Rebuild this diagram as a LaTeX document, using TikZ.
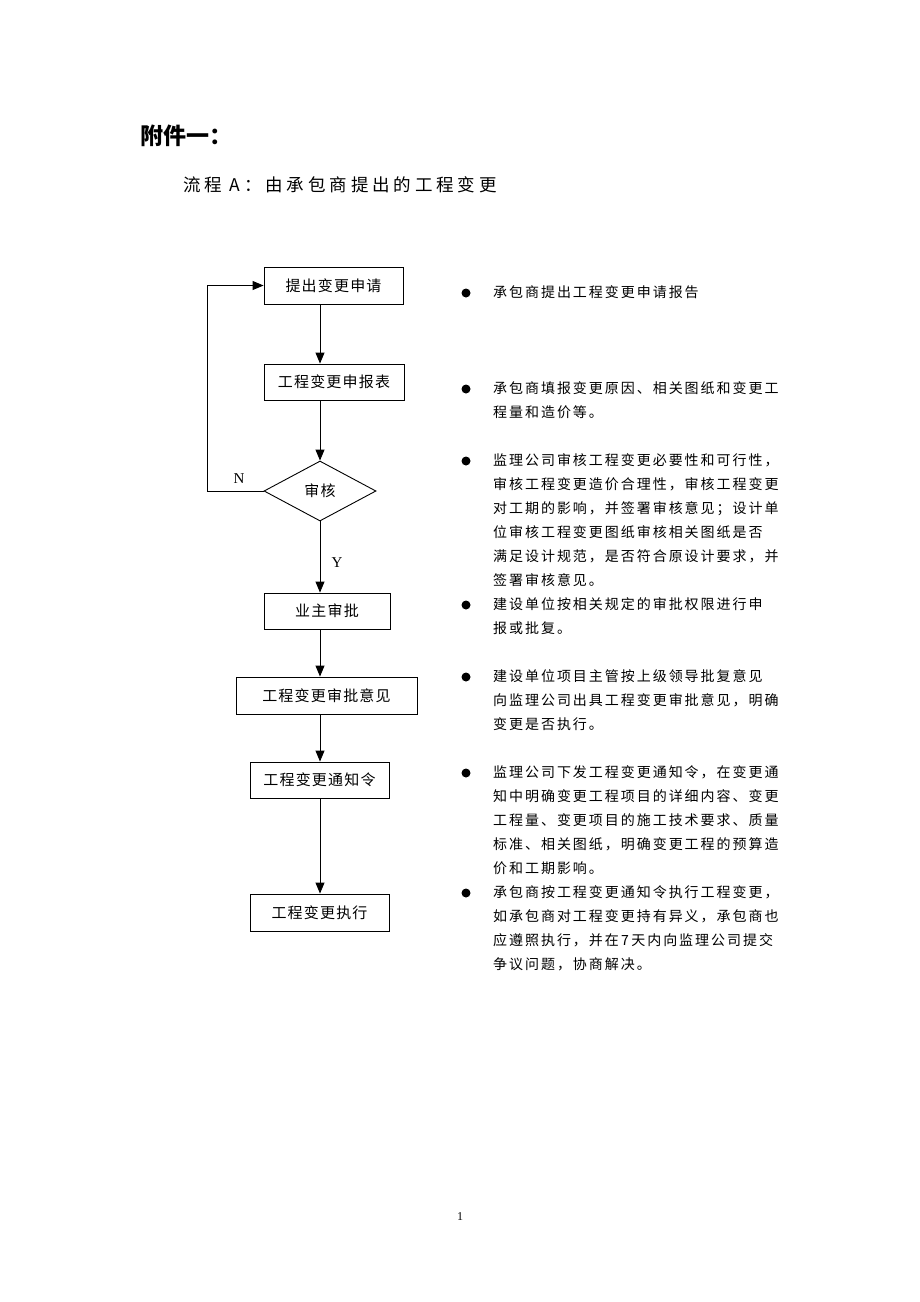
\documentclass[tikz,border=0pt]{standalone}
\usepackage{fontspec}
\setmainfont{Liberation Serif}
\newfontfamily\cjk{Noto Sans CJK SC}
\newfontfamily\cjkbody{Noto Sans CJK SC}[LetterSpace=14]
\newfontfamily\cjkbox{Noto Sans CJK SC}[LetterSpace=8]
\newfontfamily\cjksub{Noto Sans CJK SC}[LetterSpace=22]
\usetikzlibrary{shapes.geometric,arrows.meta}
\begin{document}
\begin{tikzpicture}[x=1pt,y=-1pt,
 box/.style={draw,line width=0.9pt,inner sep=0,font=\cjkbox\fontsize{15}{18}\selectfont},
 arr/.style={line width=0.9pt,-{Triangle[length=11pt,width=9pt]}},
 body/.style={anchor=north west,inner sep=0,align=left,font=\cjkbody\fontsize{14}{24}\selectfont},
 dot/.style={circle,fill,inner sep=0,minimum size=9pt},
 lbl/.style={inner sep=0,font=\fontsize{15}{18}\selectfont}]
\path[use as bounding box,fill=white] (0,0) rectangle (920,1302);

\node[anchor=west,inner sep=0,font=\cjk\bfseries\fontsize{23}{26}\selectfont] (title) at (140,136) {附件一：};
\node[anchor=west,inner sep=0,font=\cjksub\fontsize{17.5}{20}\selectfont] (sub) at (183,185) {流程 A：由承包商提出的工程变更};

\node[box,minimum width=139pt,minimum height=37pt] (a) at (333.5,285.5) {提出变更申请};
\node[box,minimum width=140pt,minimum height=36pt] (b) at (334,382) {工程变更申报表};
\node[box,diamond,minimum width=112pt,minimum height=60pt] (dia) at (320,491) {审核};
\node[box,minimum width=126pt,minimum height=36pt] (c) at (327,611) {业主审批};
\node[box,minimum width=181pt,minimum height=37pt] (d) at (326.5,695.5) {工程变更审批意见};
\node[box,minimum width=139pt,minimum height=36pt] (e) at (319.5,780) {工程变更通知令};
\node[box,minimum width=139pt,minimum height=37pt] (f) at (319.5,912.5) {工程变更执行};

\draw[arr] (a.south -| dia.center) -- (b.north -| dia.center);
\draw[arr] (b.south -| dia.center) -- (dia.north);
\draw[arr] (dia.south) -- (c.north -| dia.center);
\draw[arr] (c.south -| dia.center) -- (d.north -| dia.center);
\draw[arr] (d.south -| dia.center) -- (e.north -| dia.center);
\draw[arr] (e.south -| dia.center) -- (f.north -| dia.center);
\draw[arr] (dia.west) -- ++(-56,0) |- (a.west);

\node[lbl] (n) at (239,479) {N};
\node[lbl] (y) at (337,563) {Y};

\node[dot] (d1) at (466,293) {};
\node[body] (t1) at (493,285) {承包商提出工程变更申请报告};
\node[dot] (d2) at (466,389) {};
\node[body] (t2) at (493,381) {承包商填报变更原因、相关图纸和变更工\\程量和造价等。};
\node[dot] (d3) at (466,461) {};
\node[body] (t3) at (493,453) {监理公司审核工程变更必要性和可行性，\\审核工程变更造价合理性，审核工程变更\\对工期的影响，并签署审核意见；设计单\\位审核工程变更图纸审核相关图纸是否\\满足设计规范，是否符合原设计要求，并\\签署审核意见。};
\node[dot] (d4) at (466,605) {};
\node[body] (t4) at (493,597) {建设单位按相关规定的审批权限进行申\\报或批复。};
\node[dot] (d5) at (466,677) {};
\node[body] (t5) at (493,669) {建设单位项目主管按上级领导批复意见\\向监理公司出具工程变更审批意见，明确\\变更是否执行。};
\node[dot] (d6) at (466,773) {};
\node[body] (t6) at (493,765) {监理公司下发工程变更通知令，在变更通\\知中明确变更工程项目的详细内容、变更\\工程量、变更项目的施工技术要求、质量\\标准、相关图纸，明确变更工程的预算造\\价和工期影响。};
\node[dot] (d7) at (466,893) {};
\node[body] (t7) at (493,885) {承包商按工程变更通知令执行工程变更，\\如承包商对工程变更持有异义，承包商也\\应遵照执行，并在\,7\,天内向监理公司提交\\争议问题，协商解决。};

\node[inner sep=0,font=\fontsize{12}{14}\selectfont] (pg) at (460,1217) {1};
\end{tikzpicture}
\end{document}
